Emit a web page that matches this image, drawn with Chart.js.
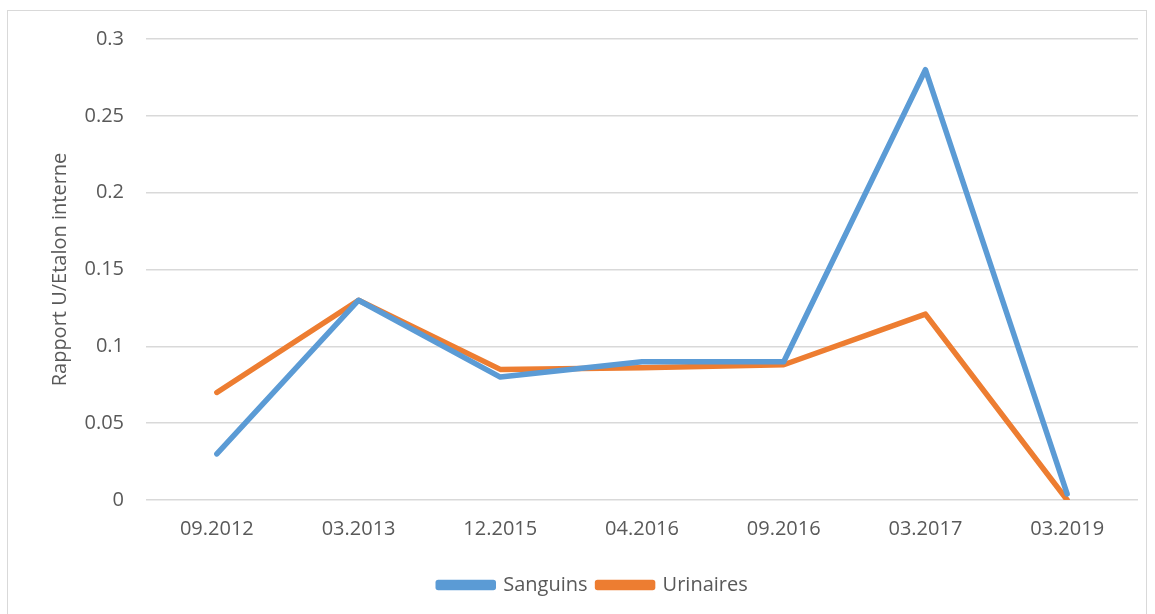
<!DOCTYPE html>
<html>
<head>
<meta charset="utf-8">
<script src="https://cdn.jsdelivr.net/npm/chart.js@4.4.0/dist/chart.umd.min.js"></script>
<style>
  html, body { margin: 0; padding: 0; background: #fff; overflow: hidden; }
  #frame { position: absolute; left: 7px; top: 10px; width: 1140px; height: 640px; border: 1.5px solid #d9d9d9; box-sizing: border-box; }
  #wrap { position: absolute; left: 0; top: 0; width: 1155px; height: 614px; }
</style>
</head>
<body>
<div id="frame"></div>
<div id="wrap"><canvas id="c" width="1155" height="614"></canvas></div>
<script>
const categories = ["09.2012", "03.2013", "12.2015", "04.2016", "09.2016", "03.2017", "03.2019"];
const sanguins = [0.03, 0.13, 0.08, 0.09, 0.09, 0.28, 0.004];
const urinaires = [0.07, 0.13, 0.085, 0.086, 0.088, 0.121, 0];
const yTicks = [0, 0.05, 0.1, 0.15, 0.2, 0.25, 0.3];
const yTitle = "Rapport U/Etalon interne";

const FONT = "'Open Sans', 'Liberation Sans', sans-serif";
const TXT = '#595959';

new Chart(document.getElementById('c'), {
  type: 'line',
  data: {
    labels: categories,
    datasets: [
      { label: 'Sanguins', data: sanguins, borderColor: '#5b9bd5', backgroundColor: '#5b9bd5', borderWidth: 5.5, pointRadius: 0, tension: 0, borderCapStyle: 'round', borderJoinStyle: 'round' },
      { label: 'Urinaires', data: urinaires, borderColor: '#ed7d31', backgroundColor: '#ed7d31', borderWidth: 5.5, pointRadius: 0, tension: 0, borderCapStyle: 'round', borderJoinStyle: 'round' }
    ]
  },
  options: {
    responsive: false,
    animation: false,
    layout: { padding: { left: 48, right: 17, top: 39, bottom: 9 } },
    plugins: {
      legend: {
        position: 'bottom',
        labels: {
          boxWidth: 55, boxHeight: 5, color: TXT, padding: 10,
          font: { family: FONT, size: 20 }
        }
      },
      tooltip: { enabled: false }
    },
    scales: {
      x: {
        offset: true,
        grid: { display: false, drawTicks: false },
        border: { display: false },
        ticks: { color: TXT, font: { family: FONT, size: 20 }, padding: 17, maxRotation: 0 },
        afterFit: (s) => { s.height = 65; }
      },
      y: {
        min: 0, max: 0.3,
        afterBuildTicks: (s) => { s.ticks = yTicks.map(v => ({ value: v })); },
        grid: { color: '#d9d9d9', lineWidth: 1.5, drawTicks: false },
        border: { display: false },
        ticks: { color: TXT, font: { family: FONT, size: 20 }, padding: 22, callback: (v) => String(+v.toFixed(2)) },
        title: { display: true, text: yTitle, color: TXT, font: { family: FONT, size: 20 }, padding: 0 },
        afterFit: (s) => { s.width = 98; }
      }
    }
  }
});
</script>
</body>
</html>
